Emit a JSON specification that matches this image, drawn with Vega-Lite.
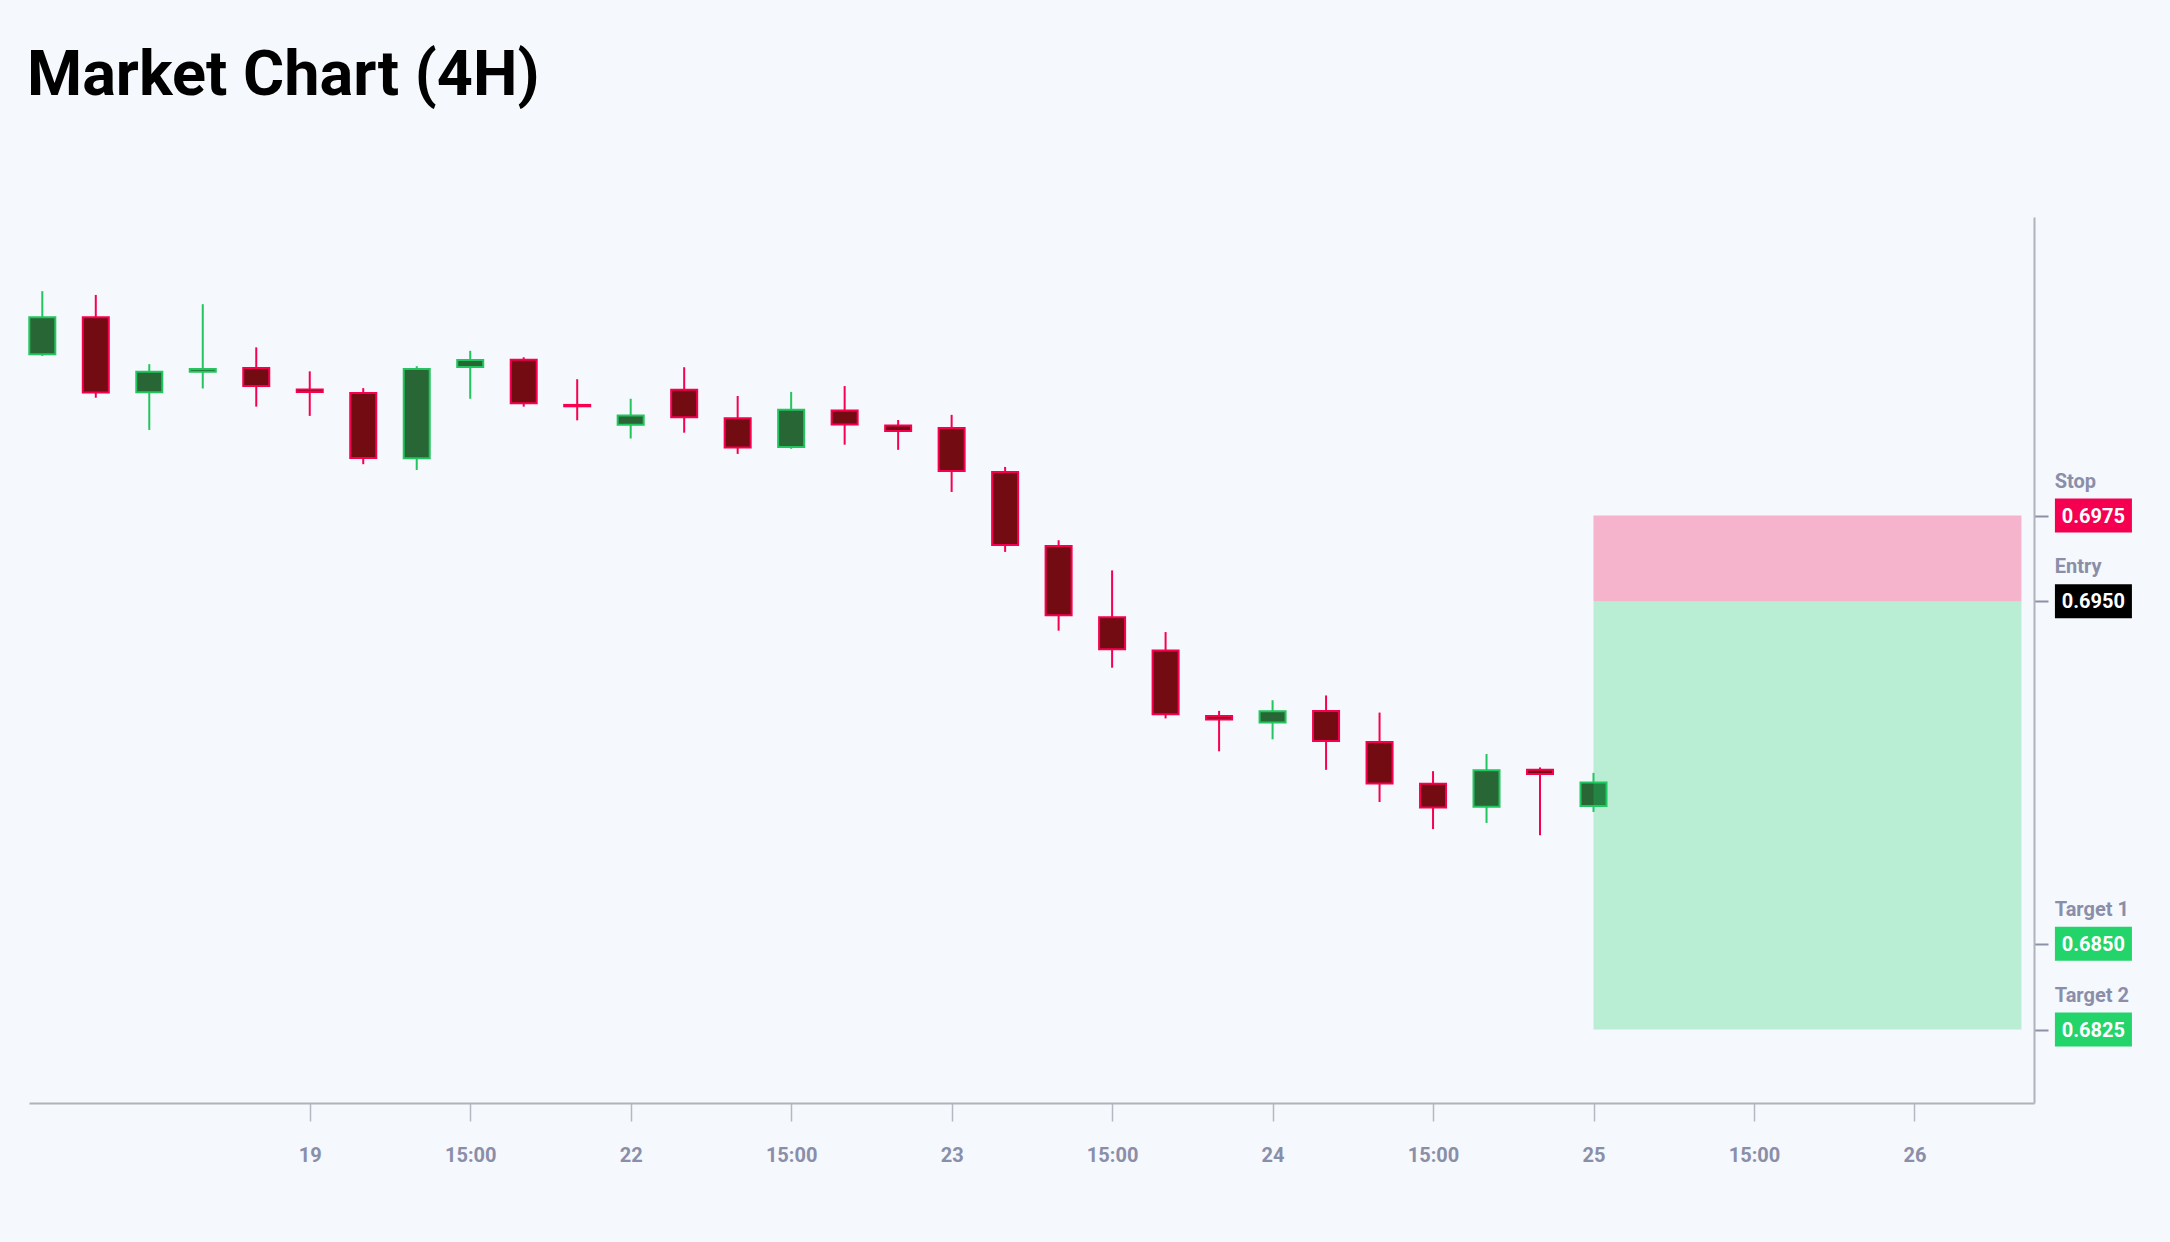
{
  "$schema": "https://vega.github.io/schema/vega-lite/v6.json",
  "title": {
    "text": "Market Chart (4H)",
    "anchor": "start",
    "frame": "group",
    "font": "Roboto",
    "fontSize": 63,
    "fontWeight": "bold",
    "color": "#000000",
    "offset": 109,
    "dx": -2
  },
  "width": 2005,
  "height": 886,
  "autosize": "none",
  "padding": {"left": 29, "top": 217, "right": 136, "bottom": 139},
  "background": "#f5f8fc",
  "config": {"view": {"stroke": null}, "font": "Roboto"},
  "datasets": {
    "candles": [
      {"i": 0, "open": 0.70221, "high": 0.70405, "low": 0.70216, "close": 0.70329},
      {"i": 1, "open": 0.70329, "high": 0.70394, "low": 0.70094, "close": 0.70109},
      {"i": 2, "open": 0.70110, "high": 0.70192, "low": 0.70000, "close": 0.70170},
      {"i": 3, "open": 0.70170, "high": 0.70367, "low": 0.70121, "close": 0.70178},
      {"i": 4, "open": 0.70181, "high": 0.70241, "low": 0.70068, "close": 0.70128},
      {"i": 5, "open": 0.70118, "high": 0.70171, "low": 0.70041, "close": 0.70111},
      {"i": 6, "open": 0.70108, "high": 0.70122, "low": 0.69900, "close": 0.69918},
      {"i": 7, "open": 0.69917, "high": 0.70186, "low": 0.69883, "close": 0.70178},
      {"i": 8, "open": 0.70184, "high": 0.70231, "low": 0.70091, "close": 0.70204},
      {"i": 9, "open": 0.70205, "high": 0.70212, "low": 0.70068, "close": 0.70078},
      {"i": 10, "open": 0.70073, "high": 0.70148, "low": 0.70028, "close": 0.70069},
      {"i": 11, "open": 0.70015, "high": 0.70091, "low": 0.69975, "close": 0.70042},
      {"i": 12, "open": 0.70117, "high": 0.70183, "low": 0.69992, "close": 0.70037},
      {"i": 13, "open": 0.70034, "high": 0.70099, "low": 0.69930, "close": 0.69949},
      {"i": 14, "open": 0.69950, "high": 0.70111, "low": 0.69945, "close": 0.70059},
      {"i": 15, "open": 0.70057, "high": 0.70128, "low": 0.69957, "close": 0.70016},
      {"i": 16, "open": 0.70013, "high": 0.70029, "low": 0.69942, "close": 0.69997},
      {"i": 17, "open": 0.70006, "high": 0.70044, "low": 0.69819, "close": 0.69880},
      {"i": 18, "open": 0.69877, "high": 0.69892, "low": 0.69644, "close": 0.69664},
      {"i": 19, "open": 0.69661, "high": 0.69678, "low": 0.69414, "close": 0.69459},
      {"i": 20, "open": 0.69453, "high": 0.69590, "low": 0.69306, "close": 0.69360},
      {"i": 21, "open": 0.69356, "high": 0.69410, "low": 0.69158, "close": 0.69170},
      {"i": 22, "open": 0.69165, "high": 0.69180, "low": 0.69062, "close": 0.69155},
      {"i": 23, "open": 0.69146, "high": 0.69211, "low": 0.69097, "close": 0.69179},
      {"i": 24, "open": 0.69180, "high": 0.69225, "low": 0.69008, "close": 0.69092},
      {"i": 25, "open": 0.69089, "high": 0.69175, "low": 0.68914, "close": 0.68968},
      {"i": 26, "open": 0.68967, "high": 0.69004, "low": 0.68835, "close": 0.68898},
      {"i": 27, "open": 0.68900, "high": 0.69054, "low": 0.68853, "close": 0.69007},
      {"i": 28, "open": 0.69008, "high": 0.69015, "low": 0.68817, "close": 0.68996},
      {"i": 29, "open": 0.68902, "high": 0.68999, "low": 0.68885, "close": 0.68971}
    ],
    "zones": [
      {"zone": "risk", "start": 29, "end": 37, "top": 0.6975, "bottom": 0.6950},
      {"zone": "reward", "start": 29, "end": 37, "top": 0.6950, "bottom": 0.6825}
    ],
    "levels": [
      {"label": "Stop", "price": 0.6975},
      {"label": "Entry", "price": 0.6950},
      {"label": "Target 1", "price": 0.6850},
      {"label": "Target 2", "price": 0.6825}
    ]
  },
  "layer": [
    {
      "data": {"name": "candles"},
      "mark": {"type": "rule", "strokeWidth": 2},
      "encoding": {
        "x": {
          "field": "i",
          "type": "quantitative",
          "scale": {"domain": [-0.2486, 37.235], "nice": false, "zero": false, "padding": 0},
          "axis": {
            "orient": "bottom",
            "title": null,
            "grid": false,
            "values": [5, 8, 11, 14, 17, 20, 23, 26, 29, 32, 35],
            "labelExpr": "['19','15:00','22','15:00','23','15:00','24','15:00','25','15:00','26'][(datum.value - 5) / 3]",
            "domainColor": "#b0b3bc",
            "domainWidth": 2,
            "tickColor": "#b5b8c2",
            "tickSize": 18,
            "tickWidth": 1.5,
            "labelFont": "Roboto",
            "labelFontSize": 20,
            "labelFontWeight": "bold",
            "labelColor": "#8a8ea8",
            "labelPadding": 24
          }
        },
        "y": {
          "field": "low",
          "type": "quantitative",
          "scale": {"domain": [0.680355, 0.706215], "nice": false, "zero": false, "padding": 0},
          "axis": {
            "orient": "right",
            "title": null,
            "grid": false,
            "labels": false,
            "values": [0.6825, 0.685, 0.695, 0.6975],
            "domainColor": "#b0b3bc",
            "domainWidth": 2,
            "tickColor": "#8d91a8",
            "tickSize": 14,
            "tickWidth": 2
          }
        },
        "y2": {"field": "high"},
        "color": {
          "condition": {"test": "datum.close >= datum.open", "value": "#22c55e"},
          "value": "#f7004f"
        }
      }
    },
    {
      "data": {"name": "candles"},
      "mark": {"type": "bar", "width": 26, "strokeWidth": 2},
      "encoding": {
        "x": {"field": "i", "type": "quantitative"},
        "y": {"field": "open", "type": "quantitative"},
        "y2": {"field": "close"},
        "fill": {
          "condition": {"test": "datum.close >= datum.open", "value": "#286635"},
          "value": "#720b12"
        },
        "stroke": {
          "condition": {"test": "datum.close >= datum.open", "value": "#22c55e"},
          "value": "#f7004f"
        }
      }
    },
    {
      "data": {"name": "zones"},
      "mark": {"type": "rect", "opacity": 0.28},
      "encoding": {
        "x": {"field": "start", "type": "quantitative"},
        "x2": {"field": "end"},
        "y": {"field": "top", "type": "quantitative"},
        "y2": {"field": "bottom"},
        "fill": {
          "condition": {"test": "datum.zone == 'risk'", "value": "#f50050"},
          "value": "#22d46a"
        }
      }
    },
    {
      "data": {"name": "levels"},
      "mark": {"type": "tick", "orient": "horizontal", "size": 77, "thickness": 34, "opacity": 1},
      "encoding": {
        "x": {"datum": 38.346, "type": "quantitative"},
        "y": {"field": "price", "type": "quantitative"},
        "color": {
          "condition": [
            {"test": "datum.label == 'Stop'", "value": "#f50050"},
            {"test": "datum.label == 'Entry'", "value": "#000000"}
          ],
          "value": "#22d46a"
        }
      }
    },
    {
      "data": {"name": "levels"},
      "mark": {"type": "text", "align": "center", "baseline": "middle", "font": "Roboto", "fontSize": 20, "fontWeight": "bold", "color": "#ffffff", "dy": 1},
      "encoding": {
        "x": {"datum": 38.346, "type": "quantitative"},
        "y": {"field": "price", "type": "quantitative"},
        "text": {"field": "price", "type": "quantitative", "format": ".4f"}
      }
    },
    {
      "data": {"name": "levels"},
      "mark": {"type": "text", "align": "left", "baseline": "alphabetic", "font": "Roboto", "fontSize": 20, "fontWeight": "bold", "color": "#8a8ea8", "dy": -28},
      "encoding": {
        "x": {"datum": 37.622, "type": "quantitative"},
        "y": {"field": "price", "type": "quantitative"},
        "text": {"field": "label", "type": "nominal"}
      }
    }
  ]
}
